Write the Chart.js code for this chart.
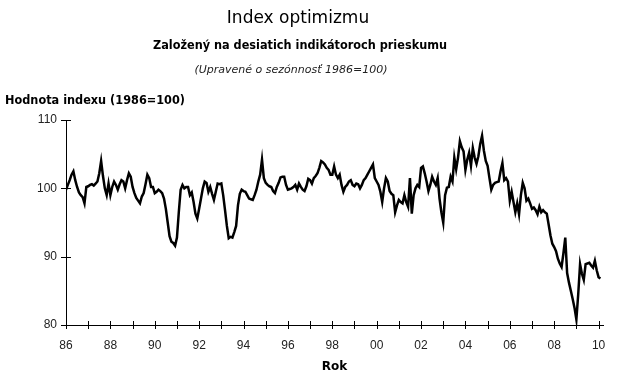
<!DOCTYPE html>
<html>
<head>
<meta charset="utf-8">
<script src="https://cdn.jsdelivr.net/npm/chart.js@4"></script>
<style>
  html, body { margin: 0; padding: 0; background: #fff; }
  canvas { display: block; }
</style>
</head>
<body>
<canvas id="chart" width="630" height="383"></canvas>
<script>
const title = "Index optimizmu";
const subtitle = "Založený na desiatich indikátoroch prieskumu";
const note = "(Upravené o sezónnosť 1986=100)";
const yTitle = "Hodnota indexu (1986=100)";
const xTitle = "Rok";

const tickYears = [1986, 1987, 1988, 1989, 1990, 1991, 1992, 1993, 1994, 1995, 1996, 1997,
  1998, 1999, 2000, 2001, 2002, 2003, 2004, 2005, 2006, 2007, 2008, 2009, 2010];
const yearLabels = ["86", "88", "90", "92", "94", "96", "98", "00", "02", "04", "06", "08", "10"];
const yTicks = [80, 90, 100, 110];

// monthly index values, starting January 1986
const v1986 = [99.8, 100.5, 101.2, 102.0, 102.5, 101.2, 100.2, 99.4, 99.0, 98.7, 97.8, 100.2];
const v1987 = [100.3, 100.5, 100.6, 100.4, 100.7, 101.0, 102.2, 104.0, 101.8, 100.0, 99.0, 100.7];
const v1988 = [99.0, 100.2, 101.0, 100.5, 99.8, 100.6, 101.2, 101.0, 100.0, 101.2, 102.2, 101.7];
const v1989 = [100.2, 99.3, 98.6, 98.2, 97.8, 98.8, 99.3, 100.6, 102.0, 101.5, 100.2, 100.2];
const v1990 = [99.3, 99.5, 99.8, 99.6, 99.3, 98.5, 97.0, 95.0, 93.0, 92.2, 92.0, 91.6];
const v1991 = [92.8, 96.5, 99.8, 100.5, 100.0, 100.2, 100.2, 99.0, 99.4, 98.0, 96.3, 95.6];
const v1992 = [97.0, 98.5, 100.0, 101.0, 100.8, 99.5, 100.2, 99.2, 98.3, 99.5, 100.7, 100.6];
const v1993 = [100.7, 99.0, 96.8, 94.5, 92.7, 92.9, 92.8, 93.6, 94.5, 97.5, 99.2, 99.8];
const v1994 = [99.6, 99.5, 99.0, 98.5, 98.4, 98.3, 99.0, 99.8, 101.0, 102.0, 104.2, 101.5];
const v1995 = [100.8, 100.5, 100.3, 100.2, 99.6, 99.3, 100.2, 100.8, 101.6, 101.7, 101.7, 100.5];
const v1996 = [99.8, 99.9, 100.0, 100.2, 100.5, 99.8, 100.7, 100.2, 99.8, 99.6, 100.3, 101.4];
const v1997 = [101.2, 100.7, 101.5, 101.8, 102.2, 103.0, 104.0, 103.8, 103.5, 103.0, 102.7, 102.0];
const v1998 = [102.0, 103.2, 102.0, 101.5, 102.0, 100.5, 99.5, 100.2, 100.5, 101.0, 101.2, 100.5];
const v1999 = [100.3, 100.7, 100.6, 100.0, 100.5, 101.2, 101.5, 102.0, 102.5, 103.0, 103.5, 101.5];
const v2000 = [101.0, 100.5, 99.5, 98.0, 100.0, 101.5, 101.0, 99.6, 99.2, 99.0, 96.5, 97.5];
const v2001 = [98.3, 98.0, 97.8, 99.0, 98.0, 97.3, 101.5, 96.3, 99.0, 100.0, 100.5, 100.2];
const v2002 = [103.0, 103.2, 102.2, 101.0, 99.6, 100.5, 101.7, 101.0, 100.5, 101.5, 98.5, 96.5];
const v2003 = [95.0, 99.0, 100.1, 100.2, 101.7, 101.0, 104.5, 102.8, 104.5, 106.9, 106.0, 105.4];
const v2004 = [102.7, 104.2, 105.2, 103.3, 105.9, 104.5, 103.6, 104.7, 106.5, 107.7, 105.5, 104.0];
const v2005 = [103.3, 101.5, 99.8, 100.5, 100.8, 100.9, 101.0, 102.5, 103.7, 101.2, 101.5, 101.0];
const v2006 = [98.2, 99.5, 98.0, 96.5, 97.8, 96.2, 99.0, 100.8, 100.0, 98.2, 98.5, 97.8];
const v2007 = [97.0, 97.2, 96.8, 96.2, 97.3, 96.5, 96.8, 96.5, 96.3, 94.7, 93.1, 91.9];
const v2008 = [91.4, 90.8, 89.7, 89.0, 88.5, 90.5, 92.8, 87.6, 86.2, 85.0, 83.8, 82.5];
const v2009 = [80.8, 84.5, 88.9, 87.5, 86.6, 88.9, 89.0, 89.1, 88.7, 88.4, 89.4, 88.0];
const v2010 = [87.0, 86.8];

const monthly = [].concat(v1986, v1987, v1988, v1989, v1990, v1991, v1992, v1993, v1994,
  v1995, v1996, v1997, v1998, v1999, v2000, v2001, v2002, v2003, v2004, v2005, v2006,
  v2007, v2008, v2009, v2010);
const points = monthly.map((v, i) => ({ x: 1986 + i / 12, y: v }));

// tick marks crossing the axes, plus the free-standing texts
const decorations = {
  id: "decorations",
  afterDraw(chart) {
    const { ctx, scales: { x, y } } = chart;
    ctx.save();
    ctx.strokeStyle = "#000";
    ctx.lineWidth = 1;
    ctx.beginPath();
    tickYears.forEach(yr => {
      const px = Math.round(x.getPixelForValue(yr)) + 0.5;
      ctx.moveTo(px, y.bottom - 4);
      ctx.lineTo(px, y.bottom + 4);
    });
    yTicks.forEach(t => {
      const py = Math.round(y.getPixelForValue(t)) + 0.5;
      ctx.moveTo(x.left - 5, py);
      ctx.lineTo(x.left + 5, py);
    });
    ctx.stroke();

    ctx.fillStyle = "#000";
    ctx.textBaseline = "middle";
    ctx.textAlign = "center";
    ctx.font = "17px 'DejaVu Sans'";
    ctx.fillText(title, 298, 19, 146);
    ctx.font = "bold 12px 'DejaVu Sans'";
    ctx.fillText(subtitle, 300, 46, 294);
    ctx.font = "italic 11px 'DejaVu Sans'";
    ctx.fillStyle = "#222";
    ctx.fillText(note, 291, 70, 195);
    ctx.fillStyle = "#000";
    ctx.textAlign = "left";
    ctx.font = "bold 12px 'DejaVu Sans'";
    ctx.fillText(yTitle, 5, 101, 180);
    ctx.restore();
  }
};

new Chart(document.getElementById("chart"), {
  type: "line",
  data: {
    datasets: [{
      data: points,
      borderColor: "#000",
      borderWidth: 2.5,
      pointRadius: 0,
      tension: 0,
      fill: false
    }]
  },
  options: {
    responsive: false,
    animation: false,
    devicePixelRatio: 1,
    layout: { padding: { top: 120, right: 27, left: 0, bottom: 0 } },
    plugins: { legend: { display: false }, tooltip: { enabled: false } },
    scales: {
      x: {
        type: "linear",
        min: 1986,
        max: 2010.2,
        afterFit: s => { s.height = 58; },
        afterBuildTicks: s => { s.ticks = tickYears.map(v => ({ value: v })); },
        grid: { display: false, drawTicks: false },
        border: { display: true, color: "#000", width: 1 },
        ticks: {
          autoSkip: false,
          maxRotation: 0,
          padding: 13,
          color: "#222",
          font: { family: "'Liberation Sans'", size: 12 },
          callback: v => (v % 2 === 0 ? yearLabels[(v - 1986) / 2] : "")
        },
        title: {
          display: true,
          text: xTitle,
          color: "#000",
          font: { family: "'DejaVu Sans'", size: 12, weight: "bold" },
          padding: { top: 0, bottom: 9 }
        }
      },
      y: {
        min: 80,
        max: 110,
        afterFit: s => { s.width = 66; },
        afterBuildTicks: s => { s.ticks = yTicks.map(v => ({ value: v })); },
        grid: { display: false, drawTicks: false },
        border: { display: true, color: "#000", width: 1 },
        ticks: {
          padding: 9,
          color: "#222",
          font: { family: "'Liberation Sans'", size: 12 }
        }
      }
    }
  },
  plugins: [decorations]
});
</script>
</body>
</html>
